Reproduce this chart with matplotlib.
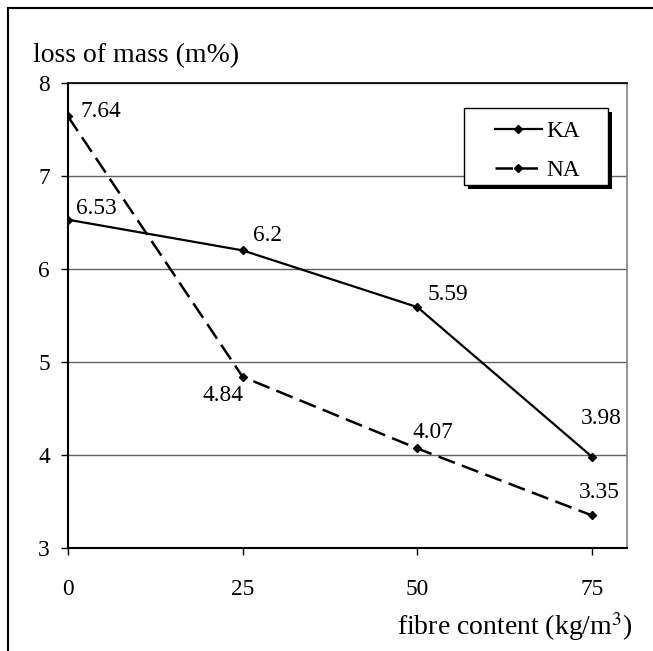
import matplotlib
matplotlib.use('Agg')
import matplotlib.pyplot as plt
from matplotlib.lines import Line2D
from matplotlib.patches import Rectangle

# data
fibre = [0, 25, 50, 75]
ka_loss = [6.53, 6.2, 5.59, 3.98]
na_loss = [7.64, 4.84, 4.07, 3.35]

# label offsets in pixels (dx, dy) relative to each point
ka_offsets = [(8, 11), (10, 15), (10, 13), (-11, 38)]
na_offsets = [(13, 5), (-40, -19), (-5, 16), (-13, 23)]

plt.rcParams['font.family'] = ['Liberation Serif', 'DejaVu Serif']
plt.rcParams['mathtext.fontset'] = 'stix'

fig = plt.figure(figsize=(6.53, 6.51), dpi=100)
ax = fig.add_axes([68 / 653, 103 / 651, 559 / 653, 465 / 651])

ax.plot(fibre, ka_loss, color='black', lw=1.6, marker='D', ms=4.5, label='KA')
ax.plot(fibre, na_loss, color='black', lw=1.8, marker='D', ms=4.5,
        dashes=(7, 3), label='NA')

for x, y, off in zip(fibre, ka_loss, ka_offsets):
    ax.annotate(f'{y:g}', (x, y), xytext=off, textcoords='offset pixels',
                fontsize=16.8, ha='left', va='center')
for x, y, off in zip(fibre, na_loss, na_offsets):
    ax.annotate(f'{y:g}', (x, y), xytext=off, textcoords='offset pixels',
                fontsize=16.8, ha='left', va='center')

ax.set_xlim(0, 80)
ax.set_ylim(3, 8)
ax.set_xticks(fibre)
ax.set_yticks([3, 4, 5, 6, 7, 8])
ax.tick_params(axis='both', direction='out', length=5, width=1,
               labelsize=16.8, color='black')
ax.tick_params(axis='x', pad=17)
ax.tick_params(axis='y', pad=8)
ax.yaxis.grid(True, color='#606060', lw=1)
ax.set_axisbelow(True)

ax.spines['left'].set_linewidth(1.5)
ax.spines['bottom'].set_linewidth(1.5)
ax.spines['top'].set_linewidth(1.2)
ax.spines['right'].set_color('#808080')
ax.spines['right'].set_linewidth(1.2)

# legend box with a solid black drop shadow, Excel style
ax.add_patch(Rectangle((0.7155, 0.7720), 0.2577, 0.1656, transform=ax.transAxes,
                       facecolor='black', edgecolor='none', zorder=3.9,
                       clip_on=False))
ax.add_patch(Rectangle((0.7084, 0.7806), 0.2577, 0.1656, transform=ax.transAxes,
                       facecolor='white', edgecolor='black', lw=1, zorder=4,
                       clip_on=False))
leg = ax.legend(loc='upper left', bbox_to_anchor=(0.7639, 0.918),
                borderaxespad=0, borderpad=0, fontsize=16.8, frameon=False,
                handlelength=2.0, handletextpad=0.2, labelspacing=0.75)
leg.set_zorder(5)

fig.text(33 / 653, 1 - 62 / 651, 'loss of mass (m%)', fontsize=20,
         ha='left', va='baseline')
fig.text(633 / 653, 1 - 635 / 651, 'fibre content (kg/m$^3$)', fontsize=20,
         ha='right', va='baseline')

# outer chart frame (cut off on right and bottom)
fig.add_artist(Line2D([8 / 653, 1], [1 - 8 / 651] * 2, color='black', lw=1.5))
fig.add_artist(Line2D([8 / 653] * 2, [0, 1 - 8 / 651], color='black', lw=1.5))

fig.savefig('out.png', dpi=100)
